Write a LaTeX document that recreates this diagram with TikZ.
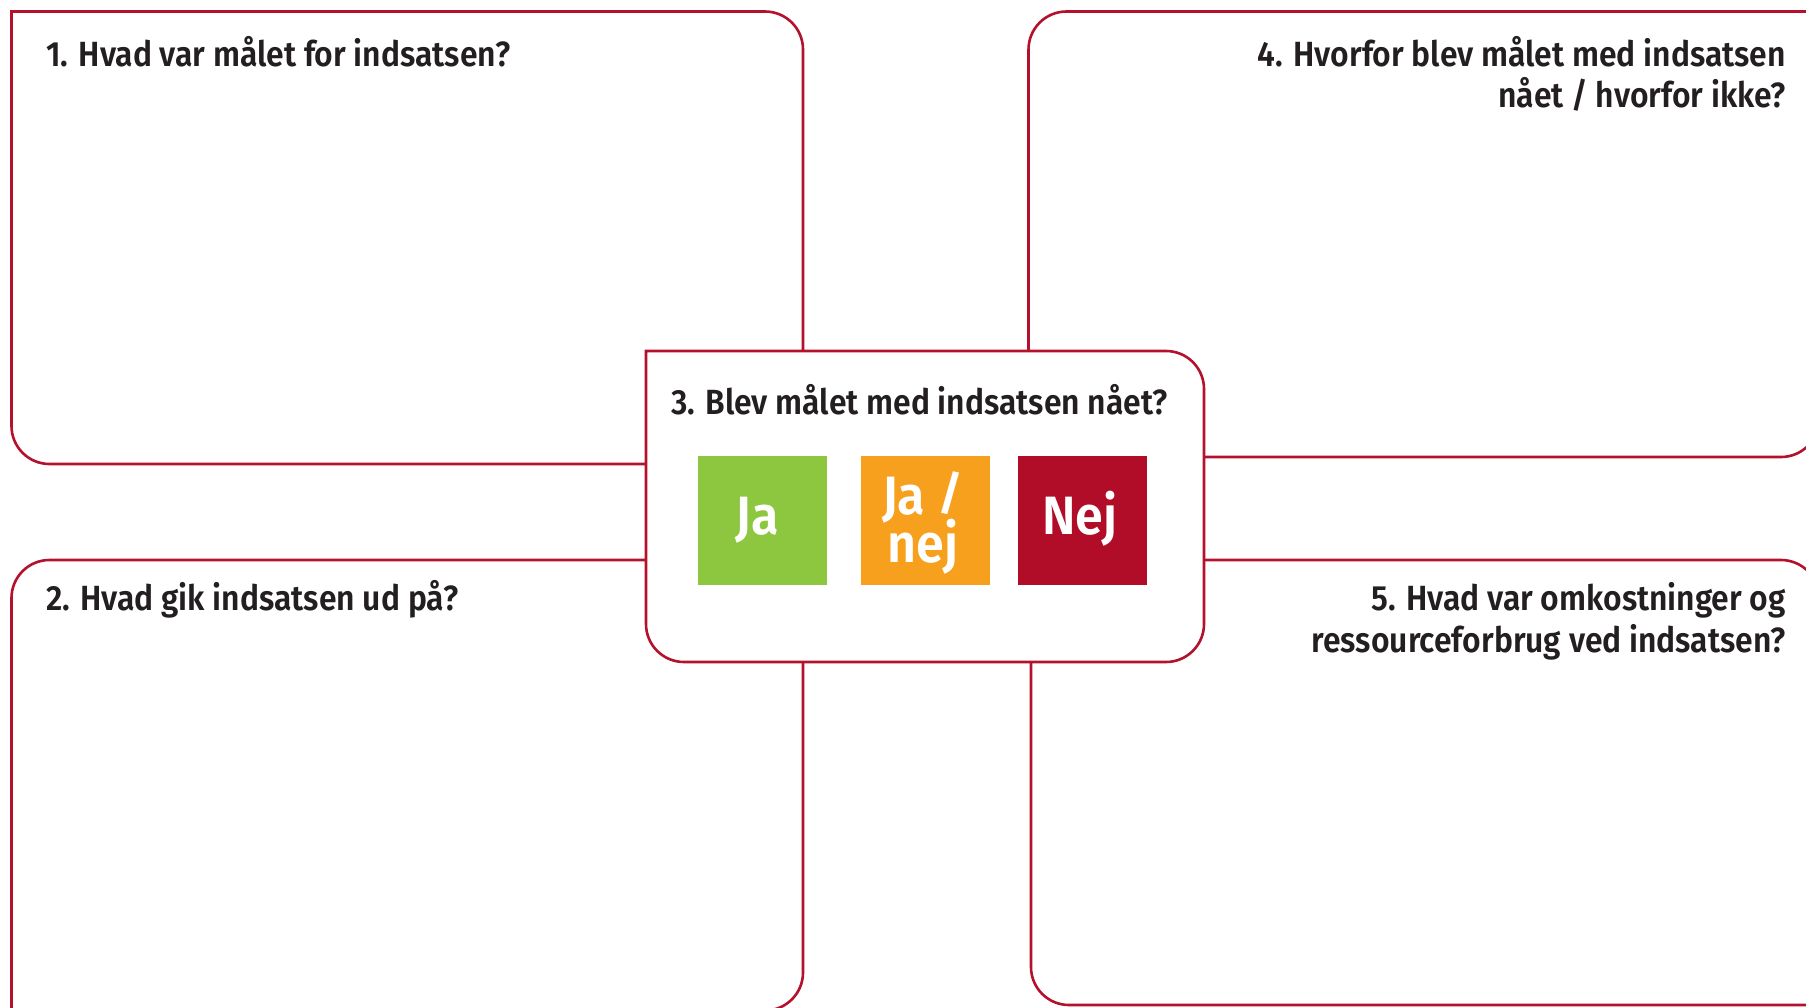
\documentclass[tikz,border=0pt]{standalone}
\usepackage{graphicx}
\usepackage{fontspec}
\IfFontExistsTF{Fira Sans SemiBold}{%
  \newfontfamily\hd{Fira Sans SemiBold}[FakeStretch=0.91]%
  \newfontfamily\sqf{Fira Sans SemiBold}[FakeStretch=0.93]%
}{%
  \IfFontExistsTF{Fira Sans Medium}{%
    \newfontfamily\hd{Fira Sans Medium}[FakeStretch=0.93]%
    \newfontfamily\sqf{Fira Sans Medium}[FakeStretch=0.95]%
  }{%
    \newfontfamily\hd{Fira Sans}[FakeStretch=0.93]%
    \newfontfamily\sqf{Fira Sans}[FakeStretch=0.95]%
  }%
}
\newcommand\twolines[2]{\vtop{\baselineskip=48pt\lineskiplimit=-1000pt\lineskip=0pt
  \halign{\hfil##\hfil\cr #1\cr #2\cr}}}
\definecolor{frame}{RGB}{180,18,44}
\definecolor{ink}{RGB}{35,31,32}
\definecolor{jagreen}{RGB}{141,198,63}
\definecolor{jaorange}{RGB}{247,160,30}
\definecolor{nejred}{RGB}{178,13,40}
\begin{document}
\begin{tikzpicture}[x=1pt,y=-1pt,
  panel/.style={draw=frame, line width=2.6pt},
  head/.style={font=\hd\fontsize{35}{41}\selectfont, text=ink, inner sep=0pt},
  square/.style={minimum size=129pt, inner sep=0pt, draw=none},
  sqtext/.style={font=\sqf\fontsize{54}{48}\selectfont, text=white, inner sep=0pt}]
\useasboundingbox (0,0) rectangle (1806,1008);
\fill[white] (0,0) rectangle (1806,1008);
% box 1
\draw[panel] (11.5,11.5) -- (765,11.5) arc[start angle=270,end angle=360,radius=38]
  -- (803,426) arc[start angle=0,end angle=90,radius=38]
  -- (49.5,464) arc[start angle=90,end angle=180,radius=38] -- cycle;
% box 4
\draw[panel] (1819,11.5) -- (1819,419) arc[start angle=0,end angle=90,radius=38]
  -- (1066.5,457) arc[start angle=90,end angle=180,radius=38]
  -- (1028.5,49.5) arc[start angle=180,end angle=270,radius=38] -- cycle;
% box 2
\draw[panel] (11.5,1010.5) -- (11.5,598) arc[start angle=180,end angle=270,radius=38]
  -- (765,560) arc[start angle=270,end angle=360,radius=38]
  -- (803,972.5) arc[start angle=0,end angle=90,radius=38] -- cycle;
% box 5
\draw[panel] (1819,1005) -- (1069,1005) arc[start angle=90,end angle=180,radius=38]
  -- (1031,598) arc[start angle=180,end angle=270,radius=38]
  -- (1781,560) arc[start angle=270,end angle=360,radius=38] -- cycle;
% box 3
\draw[panel, fill=white] (646,351) -- (1166,351) arc[start angle=270,end angle=360,radius=38]
  -- (1204,624) arc[start angle=0,end angle=90,radius=38]
  -- (684,662) arc[start angle=90,end angle=180,radius=38] -- cycle;
% headings
\node[head, anchor=base west] (q1) at (46,67) {1. Hvad var målet for indsatsen?};
\node[head, anchor=base west] (q2) at (46,610) {2. Hvad gik indsatsen ud på?};
\node[head, anchor=base west] (q3) at (671,414) {3. Blev målet med indsatsen nået?};
\node[head, anchor=base east] (q4a) at (1786,67) {4. Hvorfor blev målet med indsatsen};
\node[head, anchor=base east] (q4b) at (1786,108) {nået / hvorfor ikke?};
\node[head, anchor=base east] (q5a) at (1786,610) {5. Hvad var omkostninger og};
\node[head, anchor=base east] (q5b) at (1786,652) {ressourceforbrug ved indsatsen?};
% squares
\node[square, fill=jagreen] (ja) at (762.5,520.5) {};
\node[square, fill=jaorange] (janej) at (925.5,520.5) {};
\node[square, fill=nejred] (nej) at (1082.5,520.5) {};
\node[sqtext, anchor=base] (jat) at (757,534) {Ja};
\node[sqtext, anchor=base] (janejt) at (923,514) {\twolines{Ja \raisebox{5pt}{\scalebox{1}[0.86]{/}}}{nej}};
\node[sqtext, anchor=base] (nejt) at (1080,534) {Nej};
\end{tikzpicture}
\end{document}
